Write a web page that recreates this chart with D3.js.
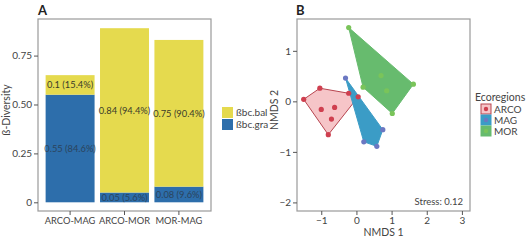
<!DOCTYPE html>
<html><head><meta charset="utf-8">
<script src="https://cdn.jsdelivr.net/npm/d3@7"></script>
<style>body{margin:0;background:#fff;}svg{display:block;font-family:Lato,"Open Sans",sans-serif;}</style>
</head><body><svg id="c" width="528" height="248"></svg>
<script>
// Panel A data
const pairs = ["ARCO-MAG","ARCO-MOR","MOR-MAG"];
const graValues = [0.55,0.05,0.08];
const balValues = [0.10,0.84,0.75];
const graLabels = ["0.55 (84.6%)","0.05 (5.6%)","0.08 (9.6%)"];
const balLabels = ["0.1 (15.4%)","0.84 (94.4%)","0.75 (90.4%)"];
const yTicksA = [0,0.25,0.5,0.75];
const yTickLabelsA = ["0","0.25","0.50","0.75"];
const seriesNames = ["ßbc.bal","ßbc.gra"];
// Panel B data
const regions = ["ARCO","MAG","MOR"];
const arcoX = [-1.50,-1.04,-0.22,0.05,-0.80,-1.00,-0.62,-0.71];
const arcoY = [0.04,0.26,0.16,0.09,-0.66,-0.16,-0.12,-0.35];
const magX = [-0.31,0.75,0.58,0.21];
const magY = [0.46,-0.56,-0.89,-0.80];
const morX = [-0.22,1.62,1.02,0.19,0.70,0.86];
const morY = [1.46,0.34,-0.24,0.28,0.51,0.21];
const xTicksB = [-1,0,1,2,3];
const yTicksB = [-2,-1,0,1];
const stressText = "Stress: 0.12";

const svg = d3.select("#c");
const yellow = "#e5da4e", blue = "#2d6eab";
const frame = "#9a9a9a";
const tickFont = 10;

// ---------- Panel A ----------
const A = {l:38,r:211,t:19,b:211};
const xA = d3.scaleBand().domain(pairs).range([A.l,A.r]).paddingInner(0.1).paddingOuter(0.14);
const yA = d3.scaleLinear().domain([0,0.937]).range([202.3,A.t]);
const gA = svg.append("g");
pairs.forEach((p,i)=>{
  const x = xA(p), w = xA.bandwidth();
  gA.append("rect").attr("x",x).attr("width",w).attr("y",yA(graValues[i])).attr("height",yA(0)-yA(graValues[i])).attr("fill",blue);
  gA.append("rect").attr("x",x).attr("width",w).attr("y",yA(graValues[i]+balValues[i])).attr("height",yA(graValues[i])-yA(graValues[i]+balValues[i])).attr("fill",yellow);
  gA.append("text").attr("x",x+w/2).attr("y",yA(graValues[i]/2)).attr("dy","0.35em").attr("text-anchor","middle").attr("font-size",9.3).attr("fill","#2b3a4a").attr("opacity",0.8).text(graLabels[i]);
  gA.append("text").attr("x",x+w/2).attr("y",yA(graValues[i]+balValues[i]/2)).attr("dy","0.35em").attr("text-anchor","middle").attr("font-size",9.3).attr("fill","#3a3a2a").text(balLabels[i]);
});
gA.append("rect").attr("x",A.l).attr("y",A.t).attr("width",A.r-A.l).attr("height",A.b-A.t).attr("fill","none").attr("stroke",frame).attr("stroke-width",1.2);
const axYA = d3.axisLeft(yA).tickValues(yTicksA).tickFormat((d,i)=>yTickLabelsA[i]).tickSize(4).tickPadding(2);
const gyA = svg.append("g").attr("transform",`translate(${A.l},0)`).call(axYA);
gyA.select(".domain").remove();
gyA.selectAll("line").attr("stroke","#555");
gyA.selectAll("text").attr("font-size",tickFont).attr("fill","#444").attr("font-family","Lato,sans-serif");
const axXA = d3.axisBottom(xA).tickSize(4).tickPadding(2);
const gxA = svg.append("g").attr("transform",`translate(0,${A.b})`).call(axXA);
gxA.select(".domain").remove();
gxA.selectAll("line").attr("stroke","#555");
gxA.selectAll("text").attr("font-size",9.3).attr("fill","#444").attr("font-family","Lato,sans-serif");
svg.append("text").attr("transform","translate(10,110) rotate(-90)").attr("text-anchor","middle").attr("font-size",10.5).attr("fill","#444").text("ß-Diversity");
svg.append("text").attr("x",38).attr("y",15).attr("font-size",13).attr("font-weight","bold").attr("fill","#222").text("A");
// legend A
const legColors = [yellow,blue];
seriesNames.forEach((s,i)=>{
  svg.append("rect").attr("x",222).attr("y",107+i*12).attr("width",11).attr("height",11).attr("fill",legColors[i]);
  svg.append("text").attr("x",236).attr("y",112.5+i*12).attr("dy","0.35em").attr("font-size",10).attr("fill","#444").text(s);
});

// ---------- Panel B ----------
const B = {l:297,r:470,t:19,b:211};
const xB = d3.scaleLinear().domain([-1.69,3.23]).range([B.l,B.r]);
const yB = d3.scaleLinear().domain([-2.17,1.63]).range([B.b,B.t]);
const groups = [
  {name:"ARCO", xs:arcoX, ys:arcoY, fill:"#f6c5c8", stroke:"#b8444f", pt:"#cf3f4f"},
  {name:"MAG", xs:magX, ys:magY, fill:"#3b9cc6", stroke:"#3b9cc6", pt:"#6b78c2"},
  {name:"MOR", xs:morX, ys:morY, fill:"#67bb6e", stroke:"#67bb6e", pt:"#7ac45a"}
];
const gB = svg.append("g");
groups.forEach(g=>{
  const pts = g.xs.map((x,i)=>[xB(x),yB(g.ys[i])]);
  const hull = d3.polygonHull(pts);
  gB.append("path").attr("d","M"+hull.join("L")+"Z").attr("fill",g.fill).attr("stroke",g.stroke).attr("stroke-width",1);
});
groups.forEach(g=>{
  g.xs.forEach((x,i)=>{
    gB.append("circle").attr("cx",xB(x)).attr("cy",yB(g.ys[i])).attr("r",2.6).attr("fill",g.pt);
  });
});
svg.append("rect").attr("x",B.l).attr("y",B.t).attr("width",B.r-B.l).attr("height",B.b-B.t).attr("fill","none").attr("stroke",frame).attr("stroke-width",1.2);
const gxB = svg.append("g").attr("transform",`translate(0,${B.b})`).call(d3.axisBottom(xB).tickValues(xTicksB).tickFormat(d3.format("d")).tickSize(4).tickPadding(2));
gxB.select(".domain").remove();
gxB.selectAll("line").attr("stroke","#555");
gxB.selectAll("text").attr("font-size",tickFont).attr("fill","#444").attr("font-family","Lato,sans-serif");
const gyB = svg.append("g").attr("transform",`translate(${B.l},0)`).call(d3.axisLeft(yB).tickValues(yTicksB).tickFormat(d3.format("d")).tickSize(4).tickPadding(2));
gyB.select(".domain").remove();
gyB.selectAll("line").attr("stroke","#555");
gyB.selectAll("text").attr("font-size",tickFont).attr("fill","#444").attr("font-family","Lato,sans-serif");
svg.append("text").attr("x",(B.l+B.r)/2).attr("y",236).attr("text-anchor","middle").attr("font-size",10.5).attr("fill","#444").text("NMDS 1");
svg.append("text").attr("transform","translate(278,110) rotate(-90)").attr("text-anchor","middle").attr("font-size",10.5).attr("fill","#444").text("NMDS 2");
svg.append("text").attr("x",463).attr("y",205).attr("text-anchor","end").attr("font-size",9.5).attr("fill","#444").text(stressText);
svg.append("text").attr("x",296).attr("y",15).attr("font-size",13).attr("font-weight","bold").attr("fill","#222").text("B");
// legend B
svg.append("text").attr("x",475).attr("y",97).attr("dy","0.35em").attr("font-size",10.5).attr("fill","#444").text("Ecoregions");
groups.forEach((g,i)=>{
  const ky = 104+i*11;
  svg.append("rect").attr("x",481).attr("y",ky).attr("width",10).attr("height",10).attr("fill",g.fill).attr("stroke",g.stroke).attr("stroke-width",1);
  svg.append("circle").attr("cx",486).attr("cy",ky+5).attr("r",2.2).attr("fill",g.pt);
  svg.append("text").attr("x",494).attr("y",ky+5).attr("dy","0.35em").attr("font-size",10).attr("fill","#444").text(g.name);
});
</script></body></html>
